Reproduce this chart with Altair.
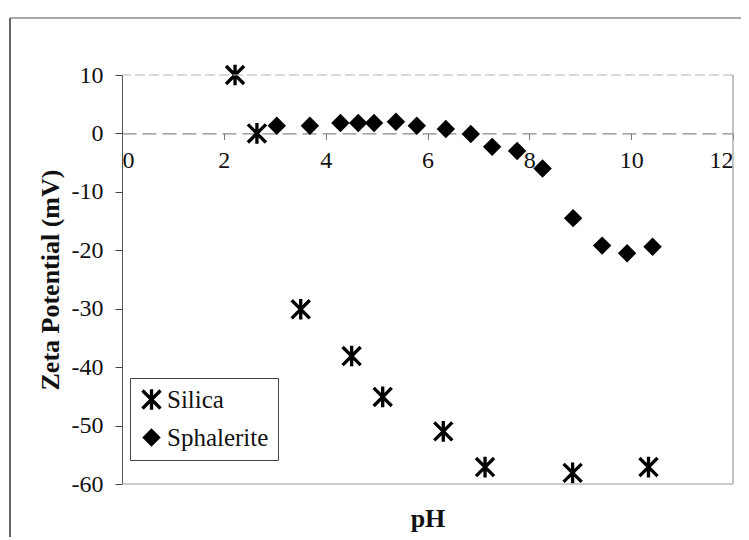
import altair as alt
import pandas as pd

# ---- data ----
silica_ph = [2.22, 2.65, 3.51, 4.51, 5.12, 6.31, 7.13, 8.85, 10.34]
silica_zeta = [10.0, 0.0, -30.1, -38.1, -45.1, -51.0, -57.1, -58.1, -57.1]

sph_ph = [3.04, 3.69, 4.29, 4.64, 4.95, 5.38, 5.79, 6.36, 6.85, 7.27, 7.76, 8.26,
          8.86, 9.43, 9.92, 10.42]
sph_zeta = [1.3, 1.3, 1.8, 1.8, 1.8, 2.0, 1.3, 0.75, -0.1, -2.3, -3.0, -6.0,
            -14.5, -19.2, -20.5, -19.4]

series_names = ["Silica", "Sphalerite"]
x_ticks = [0, 2, 4, 6, 8, 10, 12]
y_ticks = [-60, -50, -40, -30, -20, -10, 0, 10]

df = pd.DataFrame({
    "pH": silica_ph + sph_ph,
    "zeta": silica_zeta + sph_zeta,
    "series": [series_names[0]] * len(silica_ph) + [series_names[1]] * len(sph_ph),
})

FONT = "Liberation Serif"
W, H = 611, 409
Y0 = H * 10 / 70.0  # pixel position of zeta = 0


def asterisk_path(w=0.18, h=1.12, d=0.98):
    """filled asterisk: one vertical bar and two diagonal bars, same winding"""
    k = w / 2 ** 0.5
    def poly(pts):
        return "M" + "L".join(f"{x:.3f},{y:.3f}" for x, y in pts) + "Z"
    vert = [(-w, -h), (w, -h), (w, h), (-w, h)]
    diag1 = [(-d + k, -d - k), (d + k, d - k), (d - k, d + k), (-d - k, -d + k)]
    diag2 = [(-d + k, d + k), (-d - k, d - k), (d - k, -d - k), (d + k, -d + k)]
    return poly(vert) + poly(diag1) + poly(diag2)


ASTERISK = asterisk_path()

xscale = alt.Scale(domain=[0, 12], nice=False, zero=False)
yscale = alt.Scale(domain=[-60, 10], nice=False, zero=False)

points = alt.Chart(df).mark_point(
    filled=True, color="black", opacity=1, size=340, strokeWidth=0
).encode(
    x=alt.X("pH:Q", scale=xscale, axis=alt.Axis(
        values=x_ticks, title=None, offset=-(H - Y0), grid=False,
        domainColor="#8a8a8a", domainDash=[14, 6], domainWidth=1.2,
        tickColor="#777", tickSize=6, labelPadding=9,
        labelExpr="'' + datum.value",
        labelFont=FONT, labelFontSize=24, labelColor="#111")),
    y=alt.Y("zeta:Q", scale=yscale, axis=alt.Axis(
        values=y_ticks, title="Zeta Potential (mV)", grid=False,
        domainColor="#555", tickColor="#444", tickSize=7, labelPadding=12,
        labelExpr="'' + datum.value",
        labelFont=FONT, labelFontSize=24, labelColor="#111",
        titleFont=FONT, titleFontSize=26, titleFontWeight="bold",
        titleColor="#111", titlePadding=8)),
    shape=alt.Shape("series:N", scale=alt.Scale(domain=series_names,
                                                range=[ASTERISK, "diamond"]),
                    legend=alt.Legend(
                        title=None, orient="none", legendX=8, legendY=303,
                        fillColor="white", strokeColor="#444", padding=9,
                        labelFont=FONT, labelFontSize=25, labelColor="#111",
                        labelOffset=3, rowPadding=12,
                        symbolSize=340, symbolStrokeWidth=0,
                        symbolFillColor="black", symbolStrokeColor="black",
                        symbolOpacity=1)),
)

one = alt.Data(values=[{}])
bottom_edge = alt.Chart(one).mark_rule(color="#9a9a9a", strokeWidth=1.2).encode(
    y=alt.datum(y_ticks[0], scale=yscale))
top_edge = alt.Chart(one).mark_rule(color="#b5b5b5", strokeWidth=1, strokeDash=[10, 4]).encode(
    y=alt.datum(y_ticks[-1], scale=yscale))
# right edge of the plot frame; its (otherwise empty) bottom axis carries the "pH" title
right_edge = alt.Chart(one).mark_rule(color="#9a9a9a", strokeWidth=1.2).encode(
    x=alt.datum(x_ticks[-1], scale=xscale, axis=alt.Axis(
        orient="bottom", title="pH", labels=False, ticks=False, domain=False,
        grid=False, titleFont=FONT, titleFontSize=26, titleFontWeight="bold",
        titleColor="#111", titlePadding=21)))
frame_left = alt.Chart(one).mark_rule(color="#333", strokeWidth=1.5).encode(
    x=alt.value(-112), y=alt.value(-57), y2=alt.value(462))
frame_top = alt.Chart(one).mark_rule(color="#555", strokeWidth=1.2).encode(
    x=alt.value(-112), x2=alt.value(630), y=alt.value(-57))

chart = alt.layer(points, bottom_edge, top_edge, right_edge, frame_left, frame_top).resolve_axis(
    x="independent"
).properties(
    width=W, height=H,
    autosize=alt.AutoSizeParams(type="none"),
    padding={"left": 114, "top": 67, "right": 8, "bottom": 54},
    background="white",
).configure_view(stroke=None)

chart.save("out.html", embed_options={"renderer": "svg", "actions": False})
